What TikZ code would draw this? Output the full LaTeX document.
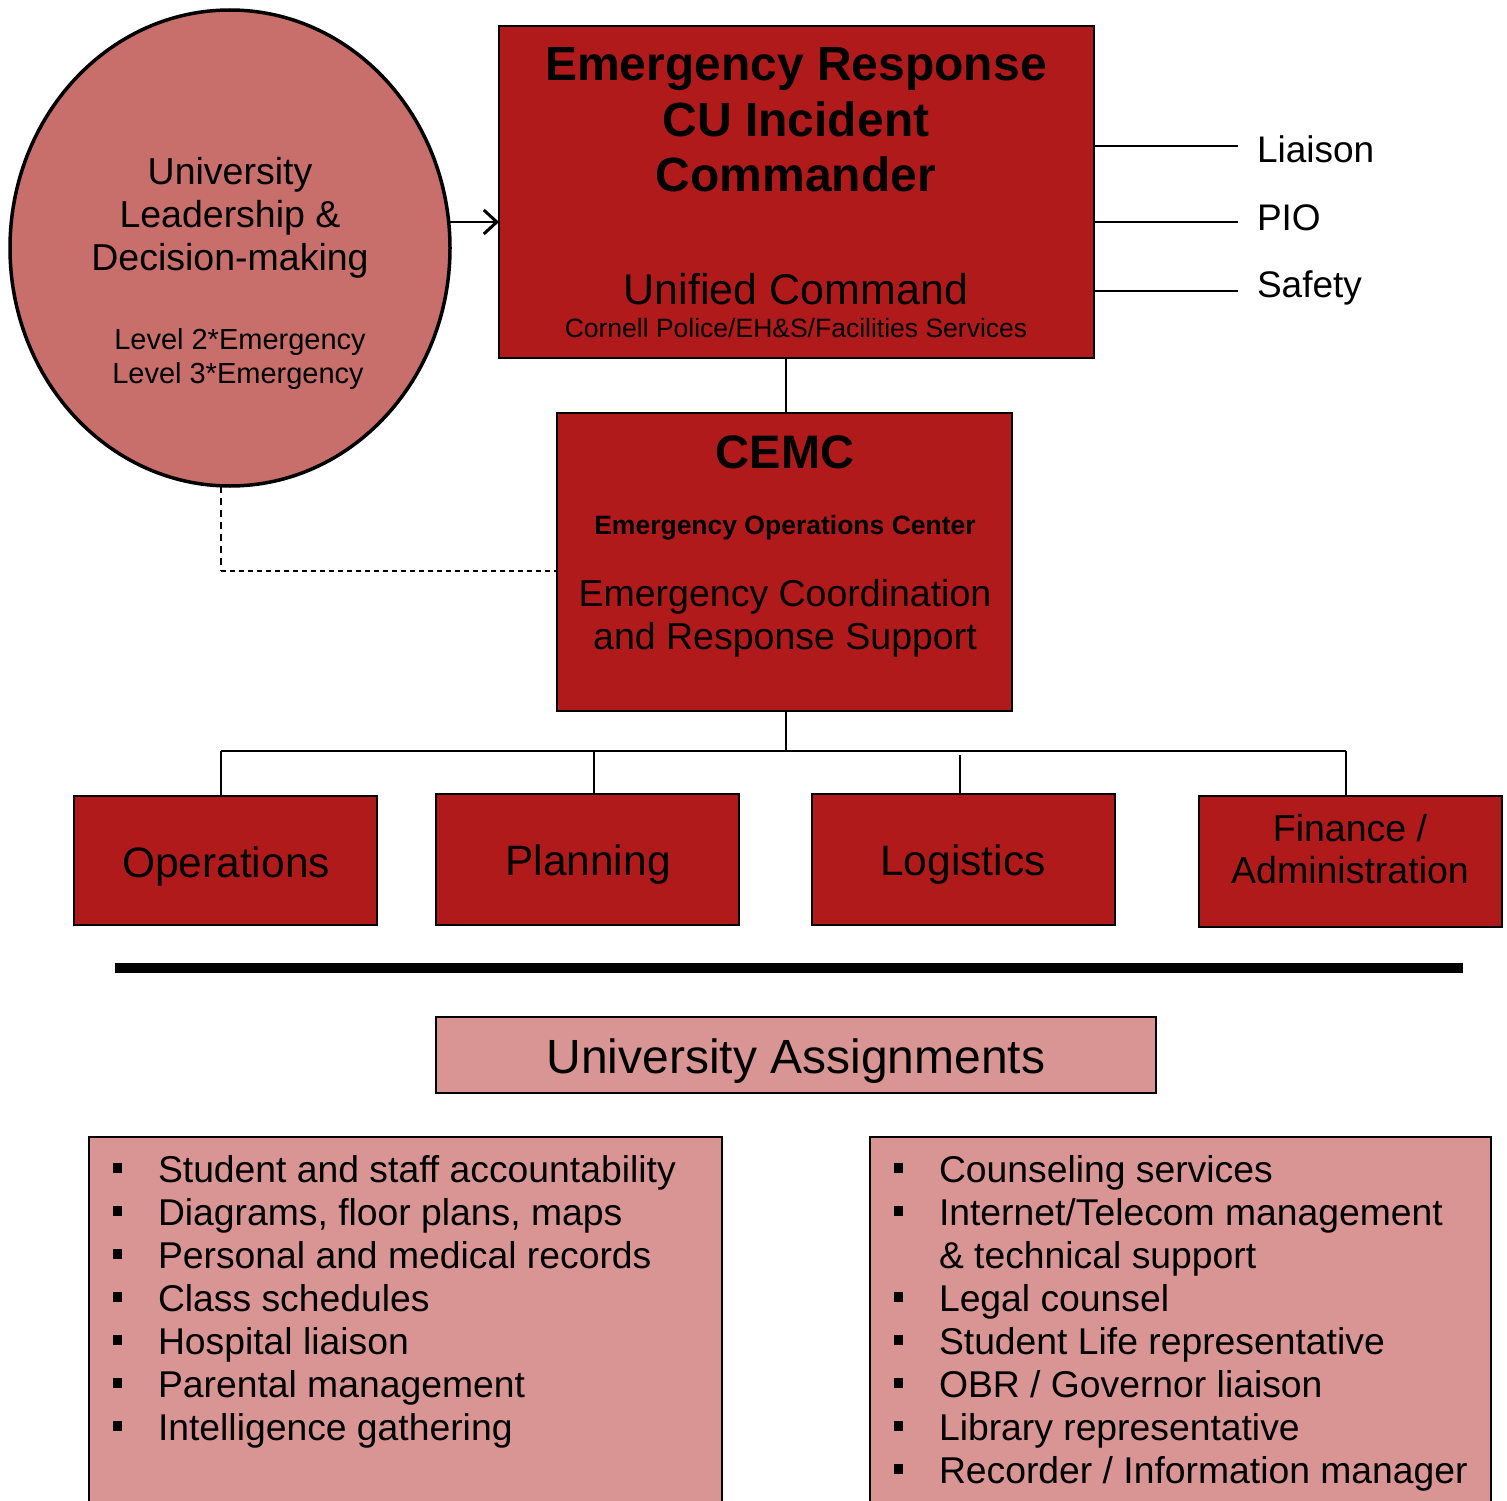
\documentclass[tikz,border=0pt]{standalone}
\usepackage{fontspec}
\setmainfont{Liberation Sans}
\usetikzlibrary{shapes.geometric,arrows.meta}
\definecolor{boxred}{RGB}{177,26,27}
\definecolor{ellfill}{RGB}{200,110,107}
\definecolor{pinkfill}{RGB}{217,149,148}
\newcommand{\fs}[1]{\fontsize{#1}{#1}\selectfont}
\begin{document}
\begin{tikzpicture}[x=1pt,y=-1pt,
  box/.style={draw=black,line width=2pt,fill=boxred,inner sep=0pt,outer sep=0pt},
  pbox/.style={draw=black,line width=2pt,fill=pinkfill,inner sep=0pt,outer sep=0pt},
  txt/.style={anchor=base,inner sep=0pt,outer sep=0pt},
  ltxt/.style={anchor=base west,inner sep=0pt,outer sep=0pt},
  conn/.style={line width=2pt},
  bul/.style={fill=black,inner sep=0pt,minimum width=9pt,minimum height=10pt},
]
\useasboundingbox (0,0) rectangle (1507,1501);
\clip (0,0) rectangle (1507,1501);
\fill[white] (0,0) rectangle (1507,1501);

% ellipse
\node[ellipse,draw=black,line width=3.5pt,fill=ellfill,minimum width=440pt,minimum height=476pt,inner sep=0pt] (ell) at (230,248) {};
\node[txt,font=\fs{37.5}] (e1) at (230,184) {University};
\node[txt,font=\fs{37.5}] (e2) at (230,227) {Leadership \&};
\node[txt,font=\fs{37.5}] (e3) at (230,270) {Decision-making};
\node[txt,font=\fs{29}] (e4) at (240,349) {Level 2*Emergency};
\node[txt,font=\fs{29}] (e5) at (238,383) {Level 3*Emergency};

% incident commander box
\node[box,minimum width=595pt,minimum height=332pt] (ic) at (796.5,192) {};
\node[txt,font=\fs{48}\bfseries] (ic1) at (796,81) {Emergency Response};
\node[txt,font=\fs{48}\bfseries] (ic2) at (796,136) {CU Incident};
\node[txt,font=\fs{48}\bfseries] (ic3) at (796,191) {Commander};
\node[txt,font=\fs{43}] (ic4) at (796,304) {Unified Command};
\node[txt,font=\fs{26.5}] (ic5) at (796,337) {Cornell Police/EH\&S/Facilities Services};

% staff lines
\node[ltxt,font=\fs{37}] (liaison) at (1257,162) {Liaison};
\node[ltxt,font=\fs{37}] (pio) at (1257,230) {PIO};
\node[ltxt,font=\fs{37}] (safety) at (1257,297) {Safety};
\coordinate (cl) at (1238,146);
\coordinate (cp) at (1238,222);
\coordinate (cs) at (1238,291);
\draw[conn] (ic.east |- cl) -- (cl);
\draw[conn] (ic.east |- cp) -- (cp);
\draw[conn] (ic.east |- cs) -- (cs);

% arrow ellipse -> IC
\coordinate (a1) at (449,222);
\draw[line width=2.6pt,-{Straight Barb[length=13pt,width=24pt,line width=3pt]}] (a1) -- (ic.west |- a1);

% CEMC
\node[box,minimum width=455pt,minimum height=298pt] (cemc) at (784.5,562) {};
\node[txt,font=\fs{47}\bfseries] (c1) at (785,468) {CEMC};
\node[txt,font=\fs{26.5}\bfseries] (c2) at (785,534) {Emergency Operations Center};
\node[txt,font=\fs{37.5}] (c3) at (785,606) {Emergency Coordination};
\node[txt,font=\fs{37.5}] (c4) at (785,649) {and Response Support};
\draw[conn] (ic.south -| 786,0) -- (cemc.north -| 786,0);

% dashed link
\coordinate (d0) at (221,486);
\coordinate (d1) at (221,571);
\draw[line width=1.6pt,dash pattern=on 7pt off 5pt] (d0) -- (d1);
\draw[line width=1.8pt,dash pattern=on 5pt off 4pt] (d1) -- (cemc.west |- d1);

% sections
\node[box,minimum width=303pt,minimum height=129pt] (ops) at (225.5,860.5) {};
\node[box,minimum width=303pt,minimum height=131pt] (plan) at (587.5,859.5) {};
\node[box,minimum width=303pt,minimum height=131pt] (log) at (963.5,859.5) {};
\node[box,minimum width=303pt,minimum height=131pt] (fin) at (1350.5,861.5) {};
\node[txt,font=\fs{42.5}] (t1) at (226,877) {Operations};
\node[txt,font=\fs{42.5}] (t2) at (588,875) {Planning};
\node[txt,font=\fs{42.5}] (t3) at (963,875) {Logistics};
\node[txt,font=\fs{37.5}] (t4) at (1350,841) {Finance /};
\node[txt,font=\fs{37.5}] (t5) at (1350,883) {Administration};

\coordinate (hb) at (786,751);
\coordinate (hl) at (221,751);
\coordinate (hr) at (1346,751);
\draw[conn] (cemc.south -| hb) -- (hb);
\draw[conn] (hl) -- (hr);
\draw[conn] (hl) -- (ops.north -| hl);
\draw[conn] (594,751) -- (plan.north -| 594,0);
\draw[conn] (960,755) -- (log.north -| 960,0);
\draw[conn] (hr) -- (fin.north -| hr);

% thick separator
\draw[line width=10pt] (115,968) -- (1463,968);

% University Assignments
\node[pbox,minimum width=720pt,minimum height=76pt] (ua) at (796,1055) {};
\node[txt,font=\fs{48}] (uat) at (796,1073) {University Assignments};

\node[pbox,minimum width=633pt,minimum height=423pt] (left) at (405.5,1348.5) {};
\node[pbox,minimum width=621pt,minimum height=423pt] (right) at (1180.5,1348.5) {};

\foreach \t [count=\i] in {Student and staff accountability,{Diagrams, floor plans, maps},Personal and medical records,Class schedules,Hospital liaison,Parental management,Intelligence gathering}{
  \node[ltxt,font=\fs{37.3}] (lt\i) at (158,{1182+43*(\i-1)}) {\t};
  \node[bul] (lb\i) at (117,{1168+43*(\i-1)}) {};
}
\foreach \t/\b [count=\i] in {{Counseling services}/1,{Internet/Telecom management}/1,{\& technical support}/0,{Legal counsel}/1,{Student Life representative}/1,{OBR / Governor liaison}/1,{Library representative}/1,{Recorder / Information manager}/1}{
  \node[ltxt,font=\fs{37.3}] (rt\i) at (939,{1182+43*(\i-1)}) {\t};
  \ifnum\b=1 \node[bul] (rb\i) at (898,{1168+43*(\i-1)}) {};\fi
}
\end{tikzpicture}
\end{document}
